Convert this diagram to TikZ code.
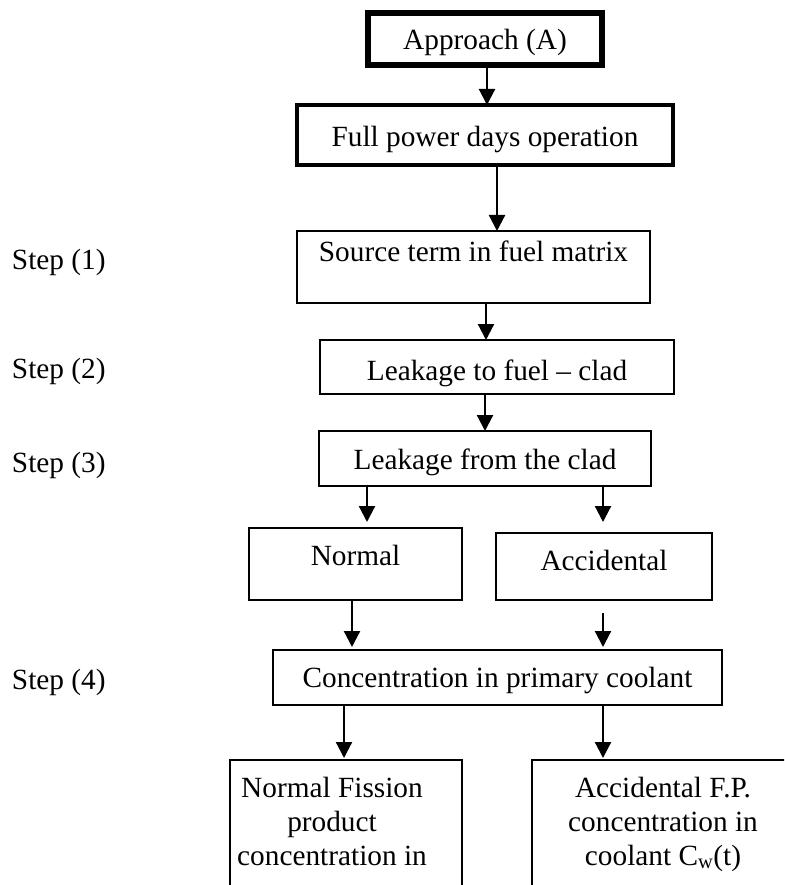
\documentclass[tikz,border=0pt]{standalone}
\usepackage{fontspec}
\setmainfont{Liberation Serif}
\usetikzlibrary{calc,arrows.meta}

\begin{document}
\begin{tikzpicture}[inner sep=0pt, outer sep=0pt, x=1pt, y=-1pt,
    every node/.style={font=\fontsize{29.3}{34}\selectfont},
    box/.style={draw, line width=2.2pt, anchor=north west},
    flow/.style={line width=2.2pt, -{Triangle[length=16pt,width=16pt]}}]
    \path[use as bounding box] (0,0) rectangle (784,885);
    \clip (0,0) rectangle (784,885);

    % approach and operation
    \node[box, line width=6pt, minimum width=234pt, text height=37pt, text depth=15pt]
    (approach) at (368,13) {Approach (A)};
    \node[box, line width=4pt, minimum width=376pt, text height=42pt, text depth=18pt]
    (fullpower) at (297,105) {Full power days operation};

    % steps 1 to 3
    \node[box, minimum width=353pt, text height=30pt, text depth=42pt]
    (source) at (297,231) {Source term in fuel matrix};
    \node[box, minimum width=354pt, text height=40pt, text depth=14pt]
    (fuelclad) at (320,340) {Leakage to fuel -- clad};
    \node[box, minimum width=332pt, text height=38pt, text depth=17pt]
    (clad) at (319,431) {Leakage from the clad\hspace{26pt}};

    % normal / accidental
    \node[box, minimum width=213pt, text height=37pt, text depth=35pt]
    (normal) at (249,528) {Normal};
    \node[box, minimum width=216pt, text height=37pt, text depth=30pt]
    (accid) at (496,533) {Accidental};

    % step 4
    \node[box, minimum width=449pt, text height=37pt, text depth=18pt]
    (conc) at (273,650) {Concentration in primary coolant\hspace{19pt}};

    % results
    \node[box, minimum width=232pt, text height=37pt, text depth=150pt] (normalfp) at (230,760)
    {
    \begin{tabular}[t]{@{}c@{\hspace{28pt}}}
    Normal Fission \\
    product \\
    concentration in \\
    \end{tabular}
    };
    \node[box, minimum width=262pt, text height=37pt, text depth=150pt] (accidfp) at (532,760)
    {
    \begin{tabular}[t]{@{}c@{}}
    Accidental F.P. \\
    concentration in \\
    coolant C\textsubscript{w}(t) \\
    \end{tabular}
    };

    % step labels
    \node[anchor=base west] (step1) at (12,269) {Step (1)};
    \node[anchor=base west] (step2) at (12,378) {Step (2)};
    \node[anchor=base west] (step3) at (12,472) {Step (3)};
    \node[anchor=base west] (step4) at (12,689) {Step (4)};

    % arrows
    \coordinate (a1) at ($(approach.south)+(2,0)$);
    \coordinate (a2) at ($(fullpower.south)+(12,0)$);
    \coordinate (a3) at ($(source.south)+(12.5,0)$);
    \coordinate (a4) at ($(fuelclad.south)+(-12,0)$);
    \coordinate (a5) at ($(clad.south)+(-118,0)$);
    \coordinate (a6) at ($(clad.south)+(118,0)$);
    \coordinate (a7) at ($(normal.south)+(-3.5,0)$);
    \coordinate (a8) at ($(accid.south)+(-1,0)$);
    \coordinate (a9) at ($(conc.south)+(-153.5,0)$);
    \coordinate (a10) at ($(conc.south)+(105.5,0)$);

    \draw[flow] (a1) -- (a1 |- fullpower.north);
    \draw[flow] (a2) -- (a2 |- source.north);
    \draw[flow] (a3) -- (a3 |- fuelclad.north);
    \draw[flow] (a4) -- (a4 |- clad.north);
    \draw[flow, shorten >=6pt] (a5) -- (a5 |- normal.north);
    \draw[flow, shorten >=11pt] (a6) -- (a6 |- accid.north);
    \draw[flow, shorten >=3pt] (a7) -- (a7 |- conc.north);
    \draw[flow, shorten <=13pt, shorten >=3pt] (a8) -- (a8 |- conc.north);
    \draw[flow, shorten >=2pt] (a9) -- (a9 |- normalfp.north);
    \draw[flow, shorten >=2pt] (a10) -- (a10 |- accidfp.north);

\end{tikzpicture}
\end{document}
